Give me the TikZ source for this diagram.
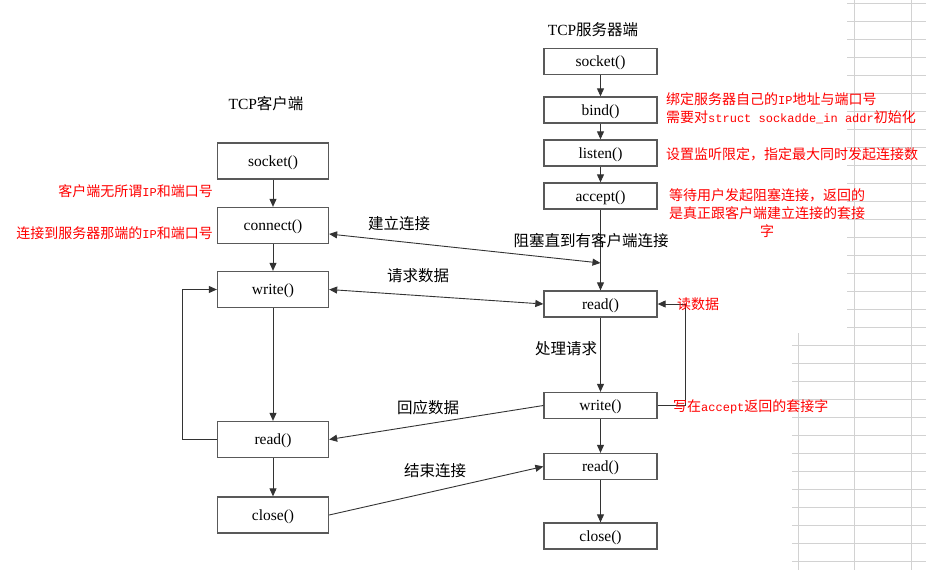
\documentclass[tikz,border=0pt]{standalone}
\usepackage{fontspec}
\setmainfont{Liberation Serif}
\setmonofont{Liberation Mono}
\newfontfamily\cjk{Noto Sans CJK SC}
\usetikzlibrary{arrows.meta}
\newcommand\mono[1]{{\ttfamily\fontsize{12}{14}\selectfont #1}}
\tikzset{
  cfn/.style={draw=gray!70!black,line width=1.3pt,minimum width=111pt,minimum height=36pt,inner sep=0pt,text depth=0pt,font=\fontsize{15.5}{18}\selectfont},
  sfn/.style={cfn,minimum width=113pt,minimum height=26pt},
  flow/.style={draw=black!80,line width=0.9pt,-{Triangle[length=8pt,width=7pt]}},
  both/.style={flow,{Triangle[length=8pt,width=7pt]}-{Triangle[length=8pt,width=7pt]}},
  lbl/.style={inner sep=0pt,font=\cjk\fontsize{15.5}{18}\selectfont},
  note/.style={inner sep=0pt,red,font=\cjk\fontsize{14}{18}\selectfont},
  sheet/.style={gray!35,line width=1pt},
}

\begin{document}
\begin{tikzpicture}[x=1pt,y=-1pt]
    \useasboundingbox (0,0) rectangle (926,570);
    % ---------------- sheet lines at the right edge ----------------
    \foreach \k in {0,...,18}
      \draw[sheet] (847,{3+18*\k}) -- (926,{3+18*\k});
    \foreach \k in {19,...,31}
      \draw[sheet] (792,{3+18*\k}) -- (926,{3+18*\k});
    \draw[sheet] (854,0) -- (854,570);
    \draw[sheet] (911,0) -- (911,570);
    \draw[sheet] (798,333) -- (798,570);
    % ---------------- client ----------------
    \node[lbl] (ctitle) at (266,104) {{\rmfamily TCP}客户端};
    \node[cfn] (csock) at (273,161) {socket()};
    \node[cfn] (cconn) at (273,225.5) {connect()};
    \node[cfn] (cwrite) at (273,289.5) {write()};
    \node[cfn] (cread) at (273,439.5) {read()};
    \node[cfn] (cclose) at (273,515) {close()};
    \draw[flow] (csock) -- (cconn);
    \draw[flow] (cconn) -- (cwrite);
    \draw[flow] (cwrite) -- (cread);
    \draw[flow] (cread) -- (cclose);
    \draw[flow] (cread.west) -- ++(-34,0) |- (cwrite.west);
    \node[note,anchor=east] (nany) at (213,191) {客户端无所谓\mono{IP}和端口号};
    \node[note,anchor=east] (nconn) at (213,233) {连接到服务器那端的\mono{IP}和端口号};
    % ---------------- server ----------------
    \node[lbl] (stitle) at (593,30) {{\rmfamily TCP}服务器端};
    \node[sfn] (ssock) at (600.5,61.5) {socket()};
    \node[sfn] (sbind) at (600.5,110) {bind()};
    \node[sfn] (slisten) at (600.5,153) {listen()};
    \node[sfn] (saccept) at (600.5,196) {accept()};
    \node[sfn] (sread) at (600.5,304) {read()};
    \node[sfn] (swrite) at (600.5,405.5) {write()};
    \node[sfn] (sread2) at (600.5,466.5) {read()};
    \node[sfn] (sclose) at (600.5,536) {close()};
    \coordinate (block) at (600.5,263);
    \draw[flow] (ssock) -- (sbind);
    \draw[flow] (sbind) -- (slisten);
    \draw[flow] (slisten) -- (saccept);
    \draw[flow] (saccept) -- (sread);
    \draw[flow] (sread) -- (swrite);
    \draw[flow] (swrite) -- (sread2);
    \draw[flow] (sread2) -- (sclose);
    \draw[flow] (swrite.east) -- ++(28,0) |- (sread.east);
    \node[lbl] (lblock) at (591,241) {阻塞直到有客户端连接};
    \node[lbl] (lproc) at (566,349) {处理请求};
    \node[note,anchor=west] (nbind) at (666,99) {绑定服务器自己的\mono{IP}地址与端口号};
    \node[note,anchor=west] (ninit) at (666,117) {需要对\mono{struct sockadde\_in addr}初始化};
    \node[note,anchor=west] (nlisten) at (666,154) {设置监听限定，指定最大同时发起连接数};
    \node[note,align=center] (naccept) at (767,213) {等待用户发起阻塞连接，返回的\\是真正跟客户端建立连接的套接\\字};
    \node[note,anchor=west] (nread) at (677,304) {读数据};
    \node[note,anchor=west] (nwrite) at (673,407) {写在\mono{accept}返回的套接字};
    % ---------------- exchange ----------------
    \draw[both] ([yshift=-8.5pt]cconn.east) -- (block);
    \draw[both] (cwrite.east) -- (sread.west);
    \draw[flow] (swrite.west) -- (cread.east);
    \draw[flow] (cclose.east) -- (sread2.west);
    \node[lbl] (lconn) at (399,224) {建立连接};
    \node[lbl] (lreq) at (418,276) {请求数据};
    \node[lbl] (lresp) at (428,408) {回应数据};
    \node[lbl] (lend) at (435,471) {结束连接};
\end{tikzpicture}
\end{document}
